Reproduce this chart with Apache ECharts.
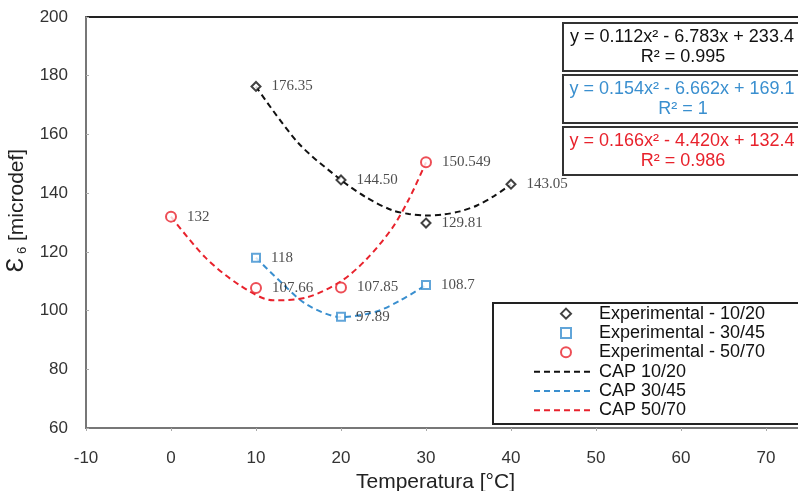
<!DOCTYPE html>
<html>
<head>
<meta charset="utf-8">
<script src="https://cdn.jsdelivr.net/npm/echarts@6/dist/echarts.min.js"></script>
<style>
  html, body { margin: 0; padding: 0; background: #fff; }
  #chart { width: 798px; height: 491px; }
</style>
</head>
<body>
<div id="chart"></div>
<script>
// experimental points: temperature in °C, strain in microdef
const temps1020 = [10, 20, 30, 40];
const strain1020 = [176.35, 144.5, 129.81, 143.05];
const labels1020 = ["176.35", "144.50", "129.81", "143.05"];

const temps3045 = [10, 20, 30];
const strain3045 = [118, 97.89, 108.7];
const labels3045 = ["118", "97.89", "108.7"];

const temps5070 = [0, 10, 20, 30];
const strain5070 = [132, 107.66, 107.85, 150.549];
const labels5070 = ["132", "107.66", "107.85", "150.549"];

// CAP trend curves
const capTemps1020 = [10, 15, 20, 23, 26, 28, 30, 32, 34, 36, 38, 40];
const capStrain1020 = [176.3, 157, 144.5, 138.5, 134.2, 132.9, 132.4, 132.7, 133.8, 135.8, 139, 143];

const capTemps3045 = [10, 13, 16, 20, 24, 27, 30];
const capStrain3045 = [118, 109.5, 102, 97.8, 99.5, 103.5, 108.7];

const capTemps5070 = [0, 4, 8, 12, 16, 20, 23, 26, 28, 30];
const capStrain5070 = [132, 118.2, 108.8, 103.5, 104.5, 110, 117.5, 128, 138, 150.5];

const fits = [
  { eq: "y = 0.112x² - 6.783x + 233.4", r2: "R² = 0.995", color: "#111" },
  { eq: "y = 0.154x² - 6.662x + 169.1", r2: "R² = 1", color: "#3a8fcf" },
  { eq: "y = 0.166x² - 4.420x + 132.4", r2: "R² = 0.986", color: "#e8222c" },
];

const black = "#111";
const blue = "#3a8fcf";
const red = "#e8222c";

function pts(xs, ys) {
  return xs.map((x, i) => [x, ys[i]]);
}

function expSeries(name, xs, ys, labels, color, symbol, size) {
  return {
    name: name,
    type: "scatter",
    data: pts(xs, ys),
    symbol: symbol,
    symbolSize: size,
    z: 5,
    itemStyle: { color: "#fff", borderColor: color, borderWidth: 2 },
    label: {
      show: true,
      position: "right",
      distance: 10,
      color: "#222",
      fontFamily: "Liberation Serif",
      fontSize: 15,
      formatter: (p) => labels[p.dataIndex],
    },
  };
}

function capSeries(name, xs, ys, color) {
  return {
    name: name,
    type: "line",
    data: pts(xs, ys),
    smooth: 0.3,
    symbol: "none",
    z: 3,
    lineStyle: { color: color, width: 2, type: [6, 4] },
    itemStyle: { color: color },
  };
}

// equation boxes in the upper right
const graphics = [];
fits.forEach((f, i) => {
  const top = 23 + i * 52;
  graphics.push({
    type: "rect",
    shape: { x: 563, y: top, width: 300, height: 48 },
    style: { fill: "#fff", stroke: "#333", lineWidth: 2 },
    z: 10,
  });
  graphics.push({
    type: "text",
    x: 682, y: top + 14,
    style: { text: f.eq, fill: f.color, font: "18px 'Liberation Sans'", align: "center", verticalAlign: "middle" },
    z: 11,
  });
  graphics.push({
    type: "text",
    x: 683, y: top + 34,
    style: { text: f.r2, fill: f.color, font: "18px 'Liberation Sans'", align: "center", verticalAlign: "middle" },
    z: 11,
  });
});
// legend frame
graphics.push({
  type: "rect",
  shape: { x: 493, y: 303, width: 400, height: 121 },
  style: { fill: "#fff", stroke: "#222", lineWidth: 2 },
  z: 0,
});

const legendText = { fontSize: 18, color: "#111", lineHeight: 19.3, fontFamily: "Liberation Sans" };

const chart = echarts.init(document.getElementById("chart"));
chart.setOption({
  animation: false,
  backgroundColor: "#fff",
  textStyle: { fontFamily: "Liberation Sans" },
  grid: {
    left: 86, top: 17, width: 765, height: 411,
    outerBoundsMode: "none",
    containLabel: false,
    show: true, borderColor: "#222", borderWidth: 2,
  },
  graphic: graphics,
  legend: [
    {
      orient: "vertical",
      left: 560, top: 304,
      padding: 0,
      itemWidth: 10, itemHeight: 10,
      itemGap: 0,
      z: 12,
      textStyle: Object.assign({ padding: [0, 0, 0, 23] }, legendText),
      data: ["Experimental - 10/20", "Experimental - 30/45", "Experimental - 50/70"],
    },
    {
      orient: "vertical",
      left: 533, top: 362,
      padding: 0,
      itemWidth: 57, itemHeight: 10,
      itemGap: 0,
      z: 12,
      textStyle: Object.assign({ padding: [0, 0, 0, 3] }, legendText),
      data: [
        { name: "CAP 10/20", itemStyle: { opacity: 0 } },
        { name: "CAP 30/45", itemStyle: { opacity: 0 } },
        { name: "CAP 50/70", itemStyle: { opacity: 0 } },
      ],
    },
  ],
  xAxis: {
    type: "value",
    min: -10, max: 80, interval: 10,
    name: "Temperatura [°C]",
    nameLocation: "middle",
    nameGap: 35,
    nameTextStyle: { fontSize: 21, color: "#222", padding: [0, 66, 0, 0] },
    axisLine: { onZero: false, lineStyle: { color: "#777", width: 2 } },
    axisTick: { show: true, length: 3, lineStyle: { color: "#aaa" } },
    axisLabel: { fontSize: 17, color: "#333", margin: 22 },
    splitLine: { show: false },
  },
  yAxis: {
    type: "value",
    min: 60, max: 200, interval: 20,
    name: "{e|Ɛ}{s| 6} [microdef]",
    nameLocation: "middle",
    nameGap: 50,
    nameRotate: 90,
    nameTextStyle: {
      fontSize: 21, color: "#222",
      padding: [0, 0, 0, 24],
      rich: {
        e: { fontSize: 24, color: "#222" },
        s: { fontSize: 13, color: "#222", verticalAlign: "bottom" },
      },
    },
    axisLine: { show: true, onZero: false, lineStyle: { color: "#777", width: 2 } },
    axisTick: { show: true, inside: true, length: 3, lineStyle: { color: "#aaa" } },
    axisLabel: { fontSize: 17, color: "#333", margin: 18 },
    splitLine: { show: false },
  },
  series: [
    capSeries("CAP 10/20", capTemps1020, capStrain1020, black),
    capSeries("CAP 30/45", capTemps3045, capStrain3045, blue),
    capSeries("CAP 50/70", capTemps5070, capStrain5070, red),
    expSeries("Experimental - 10/20", temps1020, strain1020, labels1020, black, "diamond", 9),
    expSeries("Experimental - 30/45", temps3045, strain3045, labels3045, blue, "rect", 8),
    expSeries("Experimental - 50/70", temps5070, strain5070, labels5070, red, "circle", 10),
  ],
});
</script>
</body>
</html>
